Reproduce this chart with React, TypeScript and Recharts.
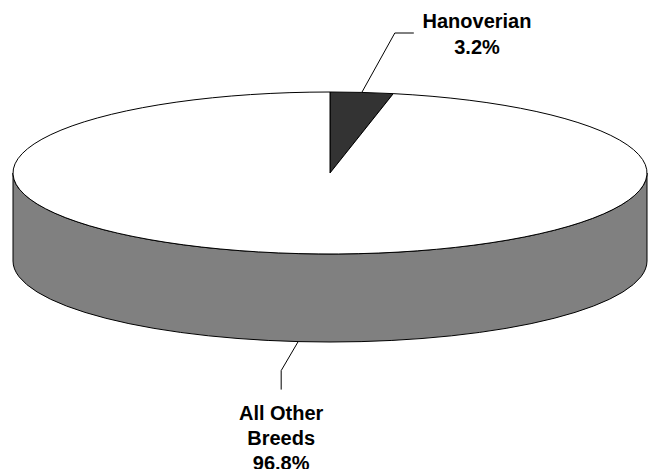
import React from 'react';
import { PieChart, Pie, Cell } from 'recharts';

const categories = ['Hanoverian', 'All Other Breeds'];
const labelLines = [['Hanoverian'], ['All Other', 'Breeds']];
const values = [3.2, 96.8];
const topColors = ['#333333', '#ffffff'];
const sideColor = '#808080';

const data = categories.map((name, i) => ({ name, value: values[i] }));

const CX = 330;
const CY = 173;
const RX = 317;
const RY = 81;
const DEPTH = 88;
const K = RY / RX;
const FONT = 'Arial, "Liberation Sans", sans-serif';

const rad = (d: number) => (d * Math.PI) / 180;
const pt = (cx: number, cy: number, rx: number, ry: number, a: number, dy = 0) => [
  cx + rx * Math.cos(rad(a)),
  cy - ry * Math.sin(rad(a)) + dy,
];

function renderSlice(props: any) {
  const { cx, cy, outerRadius, startAngle, endAngle, fill } = props;
  const rx = outerRadius;
  const ry = outerRadius * K;
  const s = Math.max(startAngle, endAngle);
  const e = Math.min(startAngle, endAngle);
  const parts: React.ReactNode[] = [];
  const fronts = [[-180, 0], [180, 360], [-540, -360]];
  fronts.forEach(([lo, hi], k) => {
    const a1 = Math.max(lo, e);
    const a2 = Math.min(hi, s);
    if (a2 - a1 > 0.01) {
      const [x1, y1] = pt(cx, cy, rx, ry, a2);
      const [x2, y2] = pt(cx, cy, rx, ry, a1);
      const [x3, y3] = pt(cx, cy, rx, ry, a1, DEPTH);
      const [x4, y4] = pt(cx, cy, rx, ry, a2, DEPTH);
      const large = a2 - a1 > 180 ? 1 : 0;
      const d = `M${x1},${y1} A${rx},${ry} 0 ${large} 1 ${x2},${y2} L${x3},${y3} A${rx},${ry} 0 ${large} 0 ${x4},${y4} Z`;
      parts.push(<path key={`side${k}`} d={d} fill={sideColor} stroke="#000" strokeWidth={1} />);
    }
  });
  const [sx, sy] = pt(cx, cy, rx, ry, s);
  const [ex, ey] = pt(cx, cy, rx, ry, e);
  const large = s - e > 180 ? 1 : 0;
  const top = `M${cx},${cy} L${sx},${sy} A${rx},${ry} 0 ${large} 1 ${ex},${ey} Z`;
  parts.push(<path key="top" d={top} fill={fill} stroke="#000" strokeWidth={1} strokeLinejoin="round" />);
  return <g>{parts}</g>;
}

function renderLabel(props: any) {
  const { cx, cy, outerRadius, midAngle, index, value } = props;
  const rx = outerRadius;
  const ry = outerRadius * K;
  const back = Math.sin(rad(midAngle)) > 0;
  const [px, py] = pt(cx, cy, rx, ry, midAngle, back ? 0 : DEPTH);
  const lines = [...labelLines[index], `${Number(value).toFixed(1)}%`];
  if (back) {
    const ex = px + 33;
    const ey = 33;
    const hx = ex + 19;
    const tx = 477;
    return (
      <g>
        <polyline points={`${px},${py} ${ex},${ey} ${hx},${ey}`} fill="none" stroke="#000" strokeWidth={1} />
        <text x={tx} y={28} textAnchor="middle" fontFamily={FONT} fontWeight="bold" fontSize={20} fill="#000">
          {lines.map((l, i) => (
            <tspan key={i} x={tx} dy={i === 0 ? 0 : 26}>{l}</tspan>
          ))}
        </text>
      </g>
    );
  }
  const ex = px - 17;
  const ey = py + 29;
  const vy = ey + 19;
  const tx = ex;
  return (
    <g>
      <polyline points={`${px},${py} ${ex},${ey} ${ex},${vy}`} fill="none" stroke="#000" strokeWidth={1} />
      <text x={tx} y={420} textAnchor="middle" fontFamily={FONT} fontWeight="bold" fontSize={20} fill="#000">
        {lines.map((l, i) => (
          <tspan key={i} x={tx} dy={i === 0 ? 0 : 25}>{l}</tspan>
        ))}
      </text>
    </g>
  );
}

export default function App() {
  return (
    <div style={{ position: 'absolute', left: 0, top: 0, width: 660, height: 469, background: '#fff' }}>
      <PieChart width={660} height={469} margin={{ top: 0, right: 0, bottom: 0, left: 0 }}>
        <Pie
          data={data}
          dataKey="value"
          nameKey="name"
          cx={CX}
          cy={CY}
          innerRadius={0}
          outerRadius={RX}
          startAngle={90}
          endAngle={-270}
          isAnimationActive={false}
          shape={renderSlice}
          activeShape={renderSlice}
          inactiveShape={renderSlice}
          label={renderLabel}
          labelLine={false}
          stroke="#000"
        >
          {data.map((d, i) => (
            <Cell key={d.name} fill={topColors[i]} />
          ))}
        </Pie>
      </PieChart>
    </div>
  );
}
